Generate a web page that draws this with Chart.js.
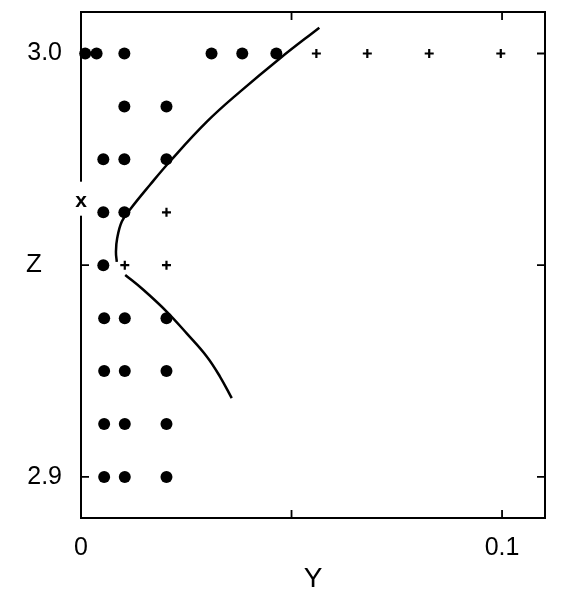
<!DOCTYPE html>
<html>
<head>
<meta charset="utf-8">
<script src="https://cdn.jsdelivr.net/npm/chart.js@4"></script>
<style>
  body { margin: 0; background: #fff; }
</style>
</head>
<body>
<canvas id="chart" width="570" height="601"></canvas>
<script>
// axis ticks
const xTicks = [0, 0.05, 0.1];
const xTickLabels = ["0", "", "0.1"];
const zTicks = [2.9, 2.95, 3.0];
const zTickLabels = ["2.9", "", "3.0"];
const markZ = 2.965; // the "x" mark on the Z axis

// filled dots, row by row (Z level, Y values)
const dotRows = [
  [3.0, [0.001, 0.0037, 0.0103, 0.031, 0.0383, 0.0464]],
  [2.9875, [0.0103, 0.0203]],
  [2.975, [0.0053, 0.0103, 0.0203]],
  [2.9625, [0.0053, 0.0103]],
  [2.95, [0.0053]],
  [2.9375, [0.0055, 0.0104, 0.0203]],
  [2.925, [0.0055, 0.0104, 0.0203]],
  [2.9125, [0.0055, 0.0104, 0.0203]],
  [2.9, [0.0055, 0.0104, 0.0203]],
];

// plus signs
const plusRows = [
  [3.0, [0.0559, 0.068, 0.0827, 0.0997]],
  [2.9625, [0.0203]],
  [2.95, [0.0104, 0.0203]],
];

// curve, upper and lower branch
const upperY = [0.0566, 0.0473, 0.0378, 0.0299, 0.0211, 0.0164, 0.0116, 0.0097, 0.0086, 0.0083, 0.0085];
const upperZ = [3.0061, 2.9989, 2.991, 2.9839, 2.9745, 2.969, 2.9631, 2.9603, 2.9564, 2.9532, 2.9508];
const lowerY = [0.0105, 0.0148, 0.0204, 0.0251, 0.0299, 0.033, 0.0358];
const lowerZ = [2.9477, 2.9442, 2.939, 2.9339, 2.9284, 2.9237, 2.9186];

const toPoints = (rows) =>
  rows.flatMap(([z, ys]) => ys.map((y) => ({ x: y, y: z })));
const toLine = (xs, zs) => xs.map((x, i) => ({ x: x, y: zs[i] }));

// frame, inward tick marks and the extra labels
const framePlugin = {
  id: "frame",
  afterDraw(chart) {
    const ctx = chart.ctx;
    const a = chart.chartArea;
    const sx = chart.scales.x;
    const sy = chart.scales.y;
    ctx.save();
    ctx.strokeStyle = "#000";
    ctx.lineWidth = 2;
    ctx.strokeRect(a.left, a.top, a.right - a.left, a.bottom - a.top);

    ctx.lineWidth = 1.8;
    ctx.beginPath();
    xTicks.slice(1).forEach((v) => {
      const px = sx.getPixelForValue(v);
      ctx.moveTo(px, a.bottom);
      ctx.lineTo(px, a.bottom - 8);
      ctx.moveTo(px, a.top);
      ctx.lineTo(px, a.top + 8);
    });
    zTicks.forEach((v) => {
      const py = sy.getPixelForValue(v);
      ctx.moveTo(a.left, py);
      ctx.lineTo(a.left + 8, py);
      ctx.moveTo(a.right, py);
      ctx.lineTo(a.right - 8, py);
    });
    ctx.stroke();

    // gap in the axis with the "x" mark
    const my = sy.getPixelForValue(markZ);
    ctx.fillStyle = "#fff";
    ctx.fillRect(a.left - 3, my - 20, 6, 34);
    ctx.fillStyle = "#000";
    ctx.textAlign = "center";
    ctx.textBaseline = "middle";
    ctx.font = "bold 21px 'Liberation Sans'";
    ctx.fillText("x", a.left, my);

    // Z axis name
    ctx.font = "26px 'Liberation Sans'";
    ctx.fillText("Z", 34, sy.getPixelForValue(2.95));
    ctx.restore();
  },
};

const ctx = document.getElementById("chart").getContext("2d");
new Chart(ctx, {
  type: "scatter",
  data: {
    datasets: [
      {
        label: "dots",
        data: toPoints(dotRows),
        pointStyle: "circle",
        pointRadius: 6,
        backgroundColor: "#000",
        borderColor: "#000",
        borderWidth: 0,
        clip: false,
      },
      {
        label: "plus",
        data: toPoints(plusRows),
        pointStyle: "cross",
        pointRadius: 4.5,
        borderColor: "#000",
        borderWidth: 2.2,
        clip: false,
      },
      {
        label: "upper",
        data: toLine(upperY, upperZ),
        showLine: true,
        tension: 0.4,
        pointRadius: 0,
        borderColor: "#000",
        borderWidth: 2.5,
        clip: false,
      },
      {
        label: "lower",
        data: toLine(lowerY, lowerZ),
        showLine: true,
        tension: 0.4,
        pointRadius: 0,
        borderColor: "#000",
        borderWidth: 2.5,
        clip: false,
      },
    ],
  },
  options: {
    responsive: false,
    animation: false,
    layout: { padding: { top: 12, right: 25, left: 0, bottom: 0 } },
    plugins: {
      legend: { display: false },
      tooltip: { enabled: false },
    },
    scales: {
      x: {
        type: "linear",
        min: 0,
        max: 0.1102,
        afterBuildTicks: (s) => {
          s.ticks = xTicks.map((v) => ({ value: v }));
        },
        afterFit: (s) => {
          s.height = 83;
          s.paddingLeft = 0;
          s.paddingRight = 0;
        },
        ticks: {
          callback: (v) => xTickLabels[xTicks.indexOf(v)],
          font: { family: "Liberation Sans", size: 25 },
          color: "#000",
          padding: 7,
          maxRotation: 0,
          autoSkip: false,
        },
        grid: { display: false },
        border: { display: false },
        title: {
          display: true,
          text: "Y",
          color: "#000",
          font: { family: "Liberation Sans", size: 28 },
          padding: { top: 0, bottom: 5 },
        },
      },
      y: {
        type: "linear",
        min: 2.8903,
        max: 3.0098,
        afterBuildTicks: (s) => {
          s.ticks = zTicks.map((v) => ({ value: v }));
        },
        afterFit: (s) => {
          s.width = 81;
          s.paddingTop = 0;
          s.paddingBottom = 0;
        },
        ticks: {
          callback: (v) => zTickLabels[zTicks.indexOf(v)],
          font: { family: "Liberation Sans", size: 25 },
          color: "#000",
          padding: 11,
          autoSkip: false,
        },
        grid: { display: false },
        border: { display: false },
      },
    },
  },
  plugins: [framePlugin],
});
</script>
</body>
</html>
